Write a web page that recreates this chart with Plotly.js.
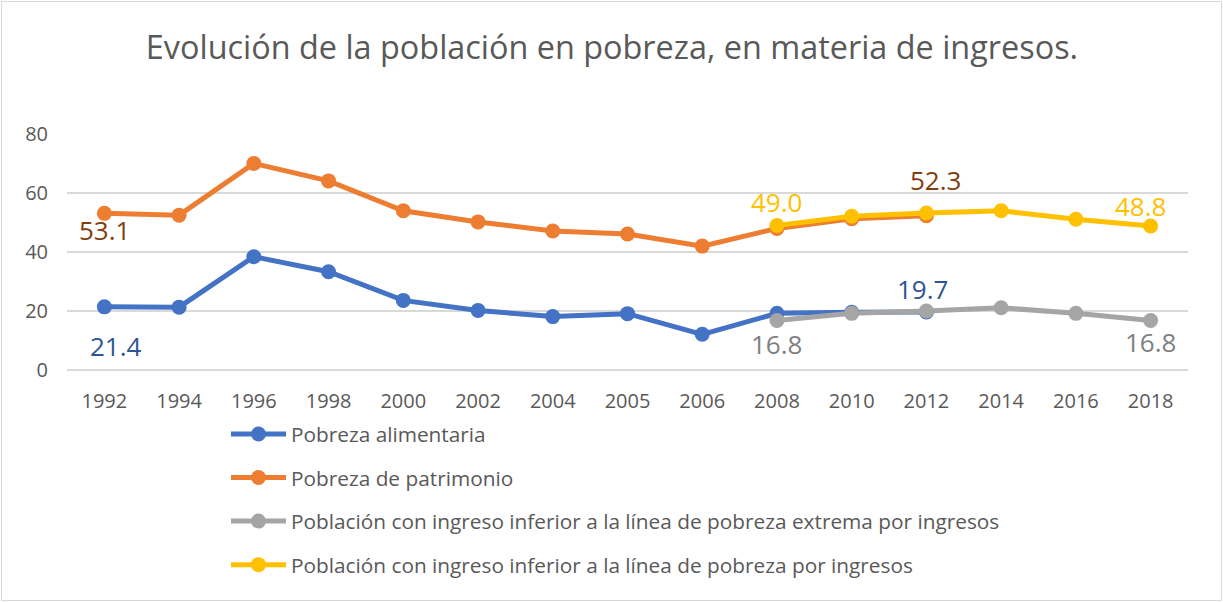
<!DOCTYPE html>
<html>
<head>
<meta charset="utf-8">
<script src="https://cdn.plot.ly/plotly-3.0.1.min.js"></script>
<style>
  html, body { margin: 0; padding: 0; background: #fff; }
  #wrap { position: relative; width: 1223px; height: 602px; }
  #chart { width: 1223px; height: 602px; }
  #frame { position: absolute; left: 1px; top: 1px; width: 1219px; height: 598px; border: 1px solid #d9d9d9; pointer-events: none; }
</style>
</head>
<body>
<div id="wrap"><div id="chart"></div><div id="frame"></div></div>
<script>
const years = ["1992","1994","1996","1998","2000","2002","2004","2005","2006","2008","2010","2012","2014","2016","2018"];
const pobrezaAlimentaria = [21.4, 21.3, 38.4, 33.3, 23.6, 20.2, 18.1, 19.1, 12.1, 19.2, 19.6, 19.7, null, null, null];
const pobrezaPatrimonio   = [53.1, 52.5, 70.0, 64.1, 54.0, 50.2, 47.1, 46.1, 42.0, 48.0, 51.3, 52.3, null, null, null];
const ingresoExtrema      = [null, null, null, null, null, null, null, null, null, 16.8, 19.2, 20.0, 21.1, 19.2, 16.8];
const ingresoPobreza      = [null, null, null, null, null, null, null, null, null, 49.0, 52.1, 53.2, 54.0, 51.1, 48.8];
const seriesNames = [
  "Pobreza alimentaria",
  "Pobreza de patrimonio",
  "Población con ingreso inferior a la línea de pobreza extrema por ingresos",
  "Población con ingreso inferior a la línea de pobreza por ingresos"
];
const seriesValues = [pobrezaAlimentaria, pobrezaPatrimonio, ingresoExtrema, ingresoPobreza];
const lineColors = ["#4472c4", "#ed7d31", "#a5a5a5", "#ffc000"];
const labelColors = ["#2f5597", "#843c0c", "#7f7f7f", "#ffc000"];
const yTicks = [0, 20, 40, 60, 80];

// data labels: [series index, point index, xshift, yshift]
const labelSpecs = [
  [1, 0, 0, -17],
  [0, 0, 12, -39],
  [2, 9, 0, -24],
  [3, 9, 0, 23],
  [1, 11, 9, 36],
  [0, 11, -4, 23],
  [3, 14, -10, 20],
  [2, 14, 0, -22]
];

const FONT = "Open Sans, Liberation Sans, sans-serif";
const traces = seriesValues.map((vals, i) => ({
  type: "scatter",
  mode: "lines+markers",
  name: seriesNames[i],
  legendgroup: "g" + i,
  x: years,
  y: vals,
  line: { color: lineColors[i], width: 5 },
  marker: { color: lineColors[i], size: 15 },
  connectgaps: false,
  hoverinfo: "skip"
}));

const annotations = labelSpecs.map(([s, p, dx, dy]) => ({
  x: p,
  y: seriesValues[s][p],
  xref: "x", yref: "y",
  text: seriesValues[s][p].toFixed(1),
  showarrow: false,
  xanchor: "center", yanchor: "middle",
  xshift: dx, yshift: dy,
  font: { family: FONT, size: 26, color: labelColors[s] }
}));

const layout = {
  width: 1223, height: 602,
  paper_bgcolor: "#ffffff", plot_bgcolor: "#ffffff",
  margin: { l: 67, r: 35, t: 134, b: 232, pad: 0, autoexpand: false },
  title: {
    text: "Evolución de la población en pobreza, en materia de ingresos.",
    font: { family: FONT, size: 32.4, color: "#595959" },
    x: 612 / 1223, xanchor: "center", xref: "container",
    y: 1 - 48 / 602, yanchor: "middle", yref: "container"
  },
  xaxis: {
    type: "category",
    range: [-0.5, years.length - 0.5],
    automargin: false,
    showgrid: false, zeroline: false, showline: false,
    ticks: "", ticklabelstandoff: 17,
    tickfont: { family: FONT, size: 20, color: "#595959" }
  },
  yaxis: {
    range: [0, 80],
    automargin: false,
    tickvals: yTicks,
    ticktext: yTicks.map(String),
    showgrid: true, gridcolor: "#d9d9d9", gridwidth: 1.5,
    zeroline: true, zerolinecolor: "#d9d9d9", zerolinewidth: 1.5,
    showline: false, ticks: "", ticklabelstandoff: 18,
    tickfont: { family: FONT, size: 20, color: "#595959" }
  },
  showlegend: true,
  legend: {
    orientation: "v",
    x: (226 - 67) / 1121, xanchor: "left",
    y: (370 - 414) / 236, yanchor: "top",
    itemwidth: 55,
    tracegroupgap: 13.5,
    font: { family: FONT, size: 20.8, color: "#595959" },
    bgcolor: "rgba(0,0,0,0)"
  },
  annotations: annotations
};

Plotly.newPlot("chart", traces, layout, { staticPlot: true, displayModeBar: false });
</script>
</body>
</html>
